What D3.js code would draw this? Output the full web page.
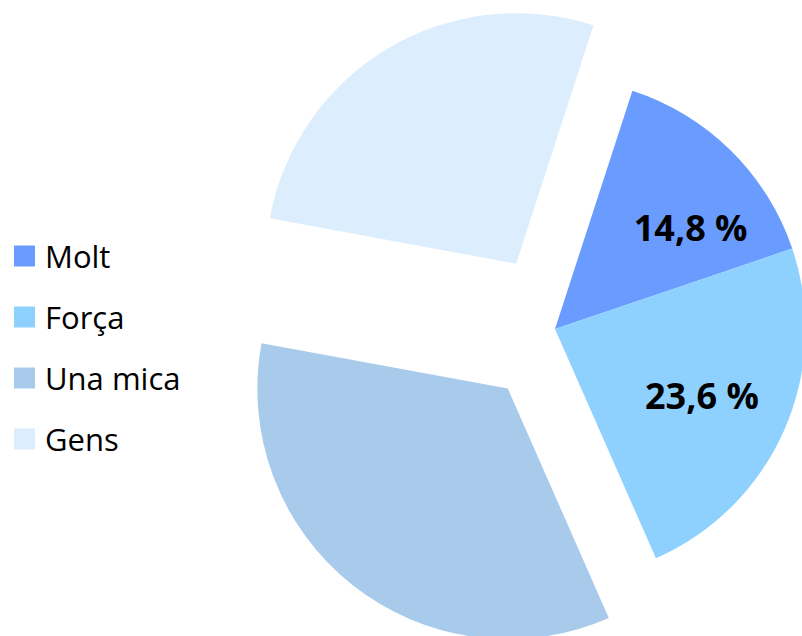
<!DOCTYPE html>
<html>
<head>
<meta charset="utf-8">
<script src="https://cdn.jsdelivr.net/npm/d3@7"></script>
<style>
  html, body { margin: 0; padding: 0; background: #fff; }
  svg { display: block; }
</style>
</head>
<body>
<div id="chart"></div>
<script>
// data
const categories = ["Molt", "Força", "Una mica", "Gens"];
const values = [14.8, 23.6, 34.5, 27.1];
const colors = ["#6A9BFF", "#8ED1FF", "#A9CBEB", "#DCEEFD"];
const labelled = [true, true, false, false];
const exploded = [0, 0, 1, 1];

const width = 802, height = 636;
const cx = 555, cy = 329, radius = 250.5;
const explodeDist = 76;
const firstAngle = 18 * Math.PI / 180;

let svg = d3.select("#chart")
  .append("svg")
  .attr("width", width)
  .attr("height", height);

let pie = d3.pie()
  .sort(null)
  .value(d => d)
  .startAngle(firstAngle)
  .endAngle(firstAngle + 2 * Math.PI);

let arc = d3.arc().innerRadius(0).outerRadius(radius);

let arcs = pie(values);

let g = svg.append("g")
  .attr("transform", "translate(" + cx + "," + cy + ")");

let slices = g.selectAll(".slice")
  .data(arcs)
  .enter().append("g")
  .attr("class", "slice")
  .attr("transform", function(d, i) {
    let mid = (d.startAngle + d.endAngle) / 2;
    let k = exploded[i] * explodeDist;
    return "translate(" + (k * Math.sin(mid)) + "," + (-k * Math.cos(mid)) + ")";
  });

slices.append("path")
  .attr("d", arc)
  .attr("fill", (d, i) => colors[i]);

// data labels, "best fit" nudges like excel does
const labelRadius = 166;
const labelNudge = [[19, 17], [-5, 0], [0, 0], [0, 0]];
let fmt = v => d3.format(".1f")(v).replace(".", ",") + " %";

slices.filter((d, i) => labelled[i])
  .append("text")
  .attr("x", function(d) {
    let mid = (d.startAngle + d.endAngle) / 2;
    return labelRadius * Math.sin(mid) + labelNudge[d.index][0];
  })
  .attr("y", function(d) {
    let mid = (d.startAngle + d.endAngle) / 2;
    return -labelRadius * Math.cos(mid) + labelNudge[d.index][1];
  })
  .attr("text-anchor", "middle")
  .attr("dominant-baseline", "central")
  .style("font-family", "'Open Sans', sans-serif")
  .style("font-weight", "bold")
  .style("font-size", "36px")
  .attr("fill", "#000")
  .text(d => fmt(d.data));

// legend
let legend = svg.append("g")
  .attr("transform", "translate(14,256)");

let items = legend.selectAll(".item")
  .data(categories)
  .enter().append("g")
  .attr("class", "item")
  .attr("transform", (d, i) => "translate(0," + (i * 61) + ")");

items.append("rect")
  .attr("x", 0)
  .attr("y", -10.5)
  .attr("width", 21)
  .attr("height", 21)
  .attr("fill", (d, i) => colors[i]);

items.append("text")
  .attr("x", 31)
  .attr("y", 0)
  .attr("dominant-baseline", "central")
  .style("font-family", "'Open Sans', sans-serif")
  .style("font-size", "31px")
  .attr("fill", "#000")
  .text(d => d);
</script>
</body>
</html>
